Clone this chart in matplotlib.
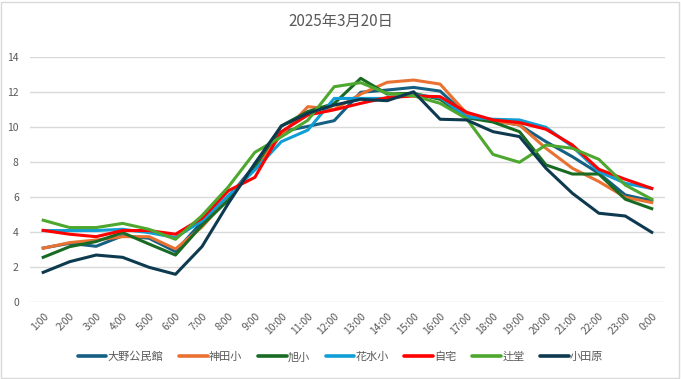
import numpy as np
import matplotlib.pyplot as plt
from matplotlib.patches import Rectangle

plt.rcParams['font.family'] = ['Noto Sans CJK JP', 'DejaVu Sans']

hours = [f"{h}:00" for h in range(1, 24)] + ["0:00"]

oono = [3.1, 3.37, 3.2, 3.8, 3.66, 2.9, 4.6, 6.0, 7.85, 9.75, 10.05, 10.38, 12.0, 12.13, 12.28, 12.07,
        10.7, 10.38, 10.13, 9.18, 8.32, 7.37, 6.13, 5.8]
kanda = [3.09, 3.41, 3.56, 3.75, 3.75, 3.05, 4.3, 6.0, 7.7, 9.56, 11.18, 11.03, 11.9, 12.57, 12.7, 12.47,
         10.8, 10.38, 10.13, 8.8, 7.66, 6.9, 6.0, 5.7]
asahi = [2.57, 3.18, 3.47, 3.98, 3.33, 2.7, 4.4, 5.85, 7.75, 10.08, 10.9, 11.36, 12.8, 11.9, 11.94, 11.6,
         10.55, 10.3, 9.75, 7.85, 7.33, 7.33, 5.89, 5.35]
hanamizu = [4.1, 4.1, 4.1, 4.17, 3.98, 3.7, 4.65, 6.1, 7.56, 9.18, 9.84, 11.65, 11.65, 11.65, 11.85, 11.7,
            10.6, 10.46, 10.42, 10.0, 8.9, 7.47, 6.8, 6.5]
jitaku = [4.11, 3.89, 3.75, 4.1, 4.1, 3.89, 4.8, 6.38, 7.14, 9.75, 10.7, 11.0, 11.37, 11.7, 11.79, 11.75,
          10.86, 10.42, 10.27, 9.89, 8.99, 7.6, 7.03, 6.51]
tsujido = [4.69, 4.27, 4.27, 4.51, 4.17, 3.6, 4.95, 6.6, 8.57, 9.46, 10.4, 12.32, 12.55, 11.94, 11.8, 11.37,
           10.5, 8.45, 8.0, 8.99, 8.8, 8.17, 6.7, 5.89]
odawara = [1.71, 2.32, 2.7, 2.57, 2.0, 1.6, 3.18, 5.66, 7.94, 10.07, 10.8, 11.27, 11.6, 11.52, 12.03, 10.46,
           10.42, 9.75, 9.47, 7.66, 6.23, 5.09, 4.93, 4.0]

series = [
    ("大野公民館", oono, "#156082"),
    ("神田小", kanda, "#E97132"),
    ("旭小", asahi, "#196B24"),
    ("花水小", hanamizu, "#0F9ED5"),
    ("自宅", jitaku, "#FF0000"),
    ("辻堂", tsujido, "#4EA72E"),
    ("小田原", odawara, "#0E3A50"),
]

fig = plt.figure(figsize=(6.81, 3.79), dpi=100)
ax = fig.add_axes([0.044, 0.2024, 0.9325, 0.6464])

x = np.arange(len(hours))
for name, vals, color in series:
    ax.plot(x, vals, color=color, linewidth=2.2, label=name, solid_joinstyle='round')

ax.set_xlim(-0.5, len(hours) - 0.5)
ax.set_ylim(0, 14)
ax.set_yticks(range(0, 15, 2))
ax.set_xticks(x)
ax.set_xticklabels(hours, rotation=45, ha='right', rotation_mode='anchor')
ax.tick_params(axis='both', length=0, labelsize=7.5, colors='#595959')
ax.tick_params(axis='x', pad=6)
ax.tick_params(axis='y', pad=8)
ax.grid(axis='y', color='#D9D9D9', linewidth=1)
ax.set_axisbelow(True)
for s in ax.spines.values():
    s.set_visible(False)

fig.suptitle("2025年3月20日", y=0.965, fontsize=11, color='#595959')

leg = fig.legend(loc='center', bbox_to_anchor=(0.5, 0.058), ncol=7, frameon=False,
                 fontsize=8, handlelength=2.6, handletextpad=0.1, columnspacing=1.4,
                 labelcolor='#595959')
for line in leg.get_lines():
    line.set_linewidth(2.6)
    line.set_solid_capstyle('round')

fig.patches.append(Rectangle((0.002, 0.003), 0.995, 0.993, transform=fig.transFigure,
                             fill=False, edgecolor='#D9D9D9', linewidth=1))

fig.savefig("out.png", dpi=100)
